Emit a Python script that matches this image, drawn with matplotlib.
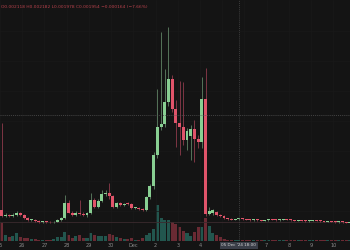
import numpy as np
from matplotlib import pyplot as plt
from matplotlib.transforms import blended_transform_factory

# 4h candles, Nov 25 - Dec 10 (prices in USD)
opens = [
    .0031, .0025, .0026, .0025, .0026, .0028, .0026, .0023, .0021, .00215,
    .0020, .00195, .0020, .0019, .00187, .00195, .0021, .0023, .0038, .0028,
    .0026, .0028, .0027, .0026, .0028, .0041, .0034, .0040, .0047, .0048,
    .0045, .0034, .0038, .0036, .00375, .0037, .0033, .00335, .0032, .0031,
    .0044, .0055, .0086, .0114, .0117, .0139, .0162, .0132, .0118, .0114,
    .0101, .0105, .0112, .0102, .0099, .0142, .0027, .0028, .0029, .0026,
    .0025, .0023, .0022, .00215, .0022, .00225, .0022, .00215, .0021, .00215,
    .0021, .00205, .0021, .0022, .00215, .0021, .00215, .0022, .00215, .0021,
    .00205, .0021, .00205, .0020, .00205, .0021, .00205, .0020, .00195, .0020,
    .00195, .0019, .00195, .0019, .00185,
]
closes = [
    .0025, .0026, .0025, .0026, .0028, .0026, .0023, .0021, .00215, .0020,
    .00195, .0020, .0019, .00187, .00195, .0021, .0023, .0038, .0028, .0026,
    .0028, .0027, .0026, .0028, .0041, .0034, .0040, .0047, .0048, .0045,
    .0034, .0038, .0036, .00375, .0037, .0033, .00335, .0032, .0031, .0044,
    .0055, .0086, .0114, .0117, .0139, .0162, .0132, .0118, .0114, .0101,
    .0110, .0112, .0102, .0099, .0142, .0027, .0030, .0031, .0026, .0025,
    .0023, .0022, .00215, .0022, .00225, .0022, .00215, .0021, .00215, .0021,
    .00205, .0021, .0022, .00215, .0021, .00215, .0022, .00215, .0021, .00205,
    .0021, .00205, .0020, .00205, .0021, .00205, .0020, .00195, .0020, .00195,
    .0019, .00195, .0019, .00185, .0019,
]
highs = [
    .0118, .0028, .0027, .0028, .0030, .0029, .0027, .0024, .0022, .0022,
    .0021, .00205, .00205, .0020, .0020, .0022, .0024, .0046, .0041, .0030,
    .0030, .0041, .0029, .0029, .0048, .0043, .0042, .0051, .0051, .0058,
    .0046, .0039, .0039, .0038, .0039, .0038, .0034, .0034, .0033, .0045,
    .0057, .0089, .0152, .0209, .0172, .0214, .0166, .0141, .0160, .0159,
    .0113, .0116, .0121, .0106, .0164, .0173, .0034, .0032, .0030, .0027,
    .0026, .00235, .0023, .00225, .0023, .0023, .00225, .0022, .0022, .0022,
    .00215, .00215, .00225, .0022, .0022, .0022, .00225, .00225, .0022, .00215,
    .00215, .00215, .0021, .0021, .00215, .00215, .0021, .00205, .00205, .00205,
    .0020, .0020, .0020, .00195, .00195,
]
lows = [
    .0024, .0024, .0024, .0024, .0025, .0025, .0022, .0020, .0020, .0019,
    .00185, .00185, .0018, .0018, .0018, .0019, .0020, .0022, .0028, .0025,
    .0025, .0026, .0025, .0024, .0027, .0033, .0033, .0039, .0045, .0042,
    .0033, .0033, .0035, .0035, .0036, .0032, .0032, .0031, .0030, .0030,
    .0042, .0052, .0083, .0111, .0114, .0135, .0129, .0094, .0086, .0096,
    .0091, .0081, .0079, .0093, .0093, .0025, .0026, .0026, .0025, .0024,
    .0022, .00215, .0021, .0021, .00215, .00215, .0021, .00205, .00205, .00205,
    .0020, .0020, .00205, .0021, .00205, .00205, .0021, .0021, .00205, .0020,
    .0020, .0020, .00195, .00195, .0020, .0020, .00195, .0019, .0019, .0019,
    .00185, .00185, .00185, .0018, .0018,
]
volume = [
    18, 6, 4, 5, 8, 4, 3, 3, 2, 2,
    1.5, 1.5, 1, 1.5, 2, 4, 4, 9, 6, 3,
    5, 6, 3, 3, 8, 6, 5, 5, 5, 7,
    6, 4, 3, 2, 2, 3, 1.5, 1.5, 3, 6,
    8, 12, 36, 23, 21, 21, 19, 17, 14, 10,
    8, 5, 9, 14, 14, 23, 15, 8, 6, 4,
    2, 1.5, 1, 1, 1.2, 1, 0.8, 0.8, 1, 0.8,
    0.8, 1, 1.2, 0.8, 0.8, 1, 1.2, 0.8, 0.8, 0.8,
    1, 0.8, 0.8, 1, 1, 0.8, 0.8, 0.8, 1, 0.8,
    0.8, 1, 0.8, 0.8, 1,
]
day_labels = ["25", "26", "27", "28", "29", "30", "Dec", "2", "3", "4",
              "", "", "7", "8", "9", "10"]
crosshair_time = 258  # hours after Nov 25 00:00 -> 05 Dec 18:00
crosshair_price = 0.0126
legend_text = "O0.002118 H0.002182 L0.001978 C0.001954 \u22120.000164 (\u22127.66%)"

o = np.array(opens)
c = np.array(closes)
h = np.array(highs)
l = np.array(lows)
v = np.array(volume)
t = 2 + 4 * np.arange(len(o))  # bar open times in hours
up = c >= o

bg = "#141414"
body_up, body_dn = "#88cf92", "#e0546a"
wick_up, wick_dn = "#56735a", "#7e3644"
vol_up, vol_dn = "#22564e", "#6a2a33"

fig = plt.figure(figsize=(3.5, 2.5), dpi=100, facecolor=bg)
ax = fig.add_axes([0, 9 / 250, 1, 241 / 250])
ax2 = ax.twinx()
ax.set_zorder(ax2.get_zorder() + 1)
ax.patch.set_visible(False)
ax2.set_facecolor(bg)

# Volume
ax2.bar(t, v, width=3.3, color=np.where(up, vol_up, vol_dn), linewidth=0)
ax2.set_ylim(0, max(volume) / 0.149)
ax2.set_yticks([])

# Grid
for d in range(16):
    ax.axvline(24 * d, color="#191919", lw=0.5, zorder=0)
for p in np.arange(0.003, 0.024, 0.003):
    ax.axhline(p, color="#191919", lw=0.5, zorder=0)

# Candles
ax.vlines(t, l, h, colors=np.where(up, wick_up, wick_dn), lw=0.7, zorder=2)
ax.bar(t, np.maximum(np.abs(c - o), 0.00006), bottom=np.minimum(o, c),
       width=3.2, color=np.where(up, body_up, body_dn), linewidth=0, zorder=3)

# Last price line
ax.axhline(closes[-1], color="#3b2a2e", lw=0.6, zorder=1)

# Crosshair
ax.axvline(crosshair_time, color="#4a4a4a", lw=0.5, ls=(0, (1.5, 1.5)), zorder=4)
ax.axhline(crosshair_price, color="#555555", lw=0.5, ls=(0, (1.5, 1.5)), zorder=4)

ax.set_xlim(1.4, 378.1)
ax.set_ylim(0, 0.0241)
ax.set_xticks(24 * np.arange(16))
ax.set_xticklabels(day_labels)
ax.set_yticks([])
ax.tick_params(axis="x", length=0, pad=1.4, labelsize=3.6, colors="#8c8c8c")
for a in (ax, ax2):
    for s in a.spines.values():
        s.set_visible(False)

trans = blended_transform_factory(ax.transData, ax.transAxes)
ax.text(crosshair_time, -0.0185, "05 Dec '24 18:00", transform=trans,
        ha="center", va="center", fontsize=3.0, color="#d6d6d6", clip_on=False,
        bbox=dict(boxstyle="square,pad=0.3", fc="#3a3e48", ec="none"))

ax.text(0.002, 0.973, legend_text, transform=ax.transAxes, ha="left",
        va="center", fontsize=3.2, color="#b8424c")

fig.savefig("out.png", dpi=100, facecolor=bg)
